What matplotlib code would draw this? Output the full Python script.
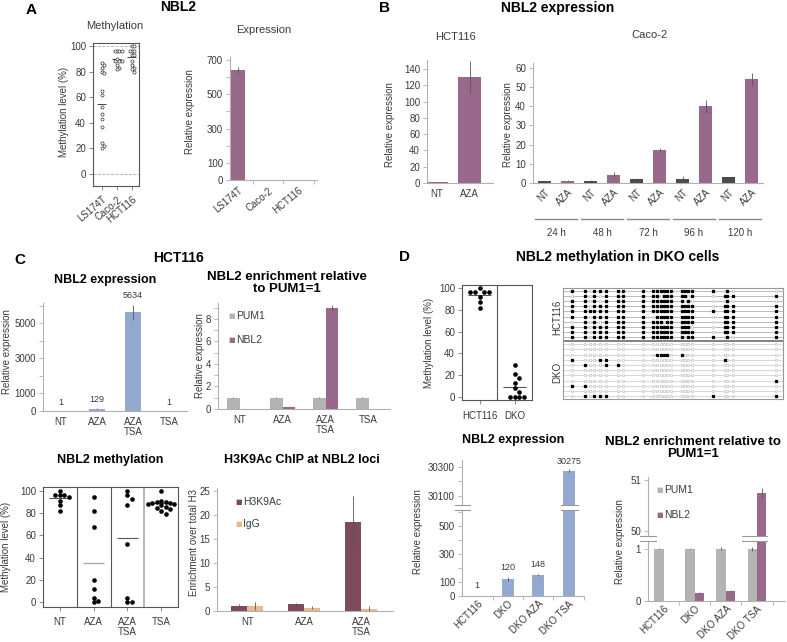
import matplotlib
matplotlib.use('Agg')
import matplotlib.pyplot as plt
import numpy as np
from matplotlib.lines import Line2D
from matplotlib.patches import Rectangle

plt.rcParams['font.family'] = ['Liberation Sans', 'DejaVu Sans']

# ---------------- DATA ----------------
# Panel A
a_lines = ['LS174T', 'Caco-2', 'HCT116']
a_meth_ls174t = [87, 85, 83, 80, 79, 65, 62, 52, 47, 43, 37, 24, 22, 20]
a_meth_caco2 = [96, 96, 96, 96, 90, 88, 88, 88, 85, 83, 82]
a_meth_hct116 = [100, 100, 96, 96, 96, 93, 93, 88, 85, 83, 82, 80]
a_meth_mean = [55, 90, 91]
a_expr = [640, 1.5, 1.2]
a_expr_err = [20, 0.3, 0.3]

# Panel B
b_hct_conds = ['NT', 'AZA']
b_hct_expr = [1, 130]
b_hct_err = [0.3, 20]
b_times = ['24 h', '48 h', '72 h', '96 h', '120 h']
b_pair = ['NT', 'AZA']
b_caco_nt = [1.0, 1.2, 2.0, 2.0, 3.0]
b_caco_nt_err = [0.2, 0.3, 0.4, 1.8, 0.3]
b_caco_aza = [1.2, 4.3, 17.0, 40.0, 54.0]
b_caco_aza_err = [0.2, 1.5, 1.0, 3.5, 3.5]

# Panel C
c_conds = ['NT', 'AZA', 'AZA\nTSA', 'TSA']
c_expr = [1, 129, 5634, 1]
c_expr_err = [0, 15, 450, 0]
c_pum1 = [1, 1, 1, 1]
c_pum1_err = [0.05, 0.05, 0.05, 0.05]
c_nbl2 = [0.01, 0.2, 9.0, 0.01]
c_nbl2_err = [0, 0.02, 0.2, 0]
c_meth_nt = [100, 96, 96, 96, 95, 91, 87, 82]
c_meth_aza = [95, 82, 68, 20, 12, 4, 1, 0]
c_meth_azatsa = [100, 96, 93, 87, 52, 4, 0, 0]
c_meth_tsa = [100, 91, 90, 90, 89, 89, 88, 88, 87, 86, 85, 84, 82, 79]
c_meth_mean = [94, 35, 58, 89]
c_chip_conds = ['NT', 'AZA', 'AZA\nTSA']
c_h3k9ac = [1.1, 1.4, 18.5]
c_h3k9ac_err = [0.3, 0.3, 5.5]
c_igg = [1.0, 0.7, 0.4]
c_igg_err = [0.8, 0.3, 0.6]

# Panel D
d_lines = ['HCT116', 'DKO']
d_meth_hct116 = [100, 96, 96, 96, 96, 92, 87, 82]
d_meth_dko = [29, 21, 17, 13, 8, 5, 0, 0, 0, 0]
d_meth_mean = [94, 9]
d_cpg_sites = [9, 22, 27, 31, 37, 43, 55, 60, 80, 90, 94, 98, 101, 104, 108,
               119, 122, 125, 129, 150, 162, 164, 170, 213]
d_bs_hct116 = [
    '110111111111111111110100',
    '010101111110111110101111',
    '110101111111111101000100',
    '110111111111111111101111',
    '111111111111111111111111',
    '110111111011111111101111',
    '010101111111011111101111',
    '110111111111111111001111',
    '110111111111111111101111',
    '110111111111111101110101',
]
d_bs_dko = [
    '000000000000000000000000',
    '000000000000000000000000',
    '000000000011110100000000',
    '100011000000000000001000',
    '010001100000000000000000',
    '000000000000000000000000',
    '000000000000000000000000',
    '000000000000000000000001',
    '110000000000000000000000',
    '000000000000000000000000',
    '010111000000000000010001',
]
d_conds = ['HCT116', 'DKO', 'DKO AZA', 'DKO TSA']
d_expr = [1, 120, 148, 30275]
d_expr_err = [0, 15, 7, 12]
d_pum1 = [1, 1, 1, 1]
d_pum1_err = [0.01, 0.01, 0.03, 0.04]
d_nbl2 = [0.002, 0.16, 0.2, 50.75]
d_nbl2_err = [0, 0.01, 0.01, 0.09]

# ---------------- STYLE ----------------
W, H = 787, 642
fig = plt.figure(figsize=(W / 100, H / 100), dpi=100)
TXT = '#3a3a3a'
SP = '#b0b0b0'
PURPLE = '#98698a'
DARK = '#4a4a4a'
BLUE = '#93a9cf'
GRAY = '#b3b3b3'
MAROON = '#7f4b5c'
TAN = '#e9b993'
FS = 7


def axpx(l, t, r, b):
    return fig.add_axes([l / W, 1 - b / H, (r - l) / W, (b - t) / H])


def ftext(x, y, s, **kw):
    kw.setdefault('color', TXT)
    kw.setdefault('ha', 'center')
    kw.setdefault('va', 'center')
    fig.text(x / W, 1 - y / H, s, **kw)


def fline(x0, y0, x1, y1, **kw):
    fig.add_artist(Line2D([x0 / W, x1 / W], [1 - y0 / H, 1 - y1 / H],
                          transform=fig.transFigure, **kw))


def frect(x0, y0, x1, y1, **kw):
    fig.add_artist(Rectangle((x0 / W, 1 - y1 / H), (x1 - x0) / W, (y1 - y0) / H,
                             transform=fig.transFigure, **kw))


def bar_style(ax, bottom=True):
    for s in ('top', 'right'):
        ax.spines[s].set_visible(False)
    for s in ('left', 'bottom'):
        ax.spines[s].set_color(SP)
        ax.spines[s].set_linewidth(0.8)
    if not bottom:
        ax.spines['bottom'].set_visible(False)
    ax.tick_params(axis='y', which='both', color=SP, labelcolor=TXT,
                   labelsize=FS, length=3, width=0.6, pad=2)
    ax.tick_params(axis='x', which='major', length=0, labelcolor=TXT,
                   labelsize=FS, pad=4)
    ax.tick_params(axis='x', which='minor', length=3, color=SP, width=0.6)
    ax.set_facecolor('none')


def box_style(ax):
    for s in ax.spines.values():
        s.set_color('#555555')
        s.set_linewidth(0.8)
    ax.tick_params(axis='both', color='#777777', labelcolor=TXT,
                   labelsize=FS, length=3, width=0.6, pad=2)
    ax.set_facecolor('none')


def ebar(ax, x, y, e):
    ax.errorbar(x, y, yerr=e, fmt='none', ecolor='#555555',
                elinewidth=0.6, capsize=0, zorder=3)


def swarm(vals, ythr, dx):
    placed, offs = [], []
    cands = [0.0]
    for i in range(1, 12):
        cands += [i * dx, -i * dx]
    for v in vals:
        for c in cands:
            if all(abs(v - pv) >= ythr or abs(c - po) >= dx * 0.99 for pv, po in placed):
                break
        placed.append((v, c))
        offs.append(c)
    return np.array(offs)


def legend_sq(x, y, color, label):
    ftext(x, y, '\u25A0', color=color, fontsize=5, family='DejaVu Sans')
    ftext(x + 4, y, label, ha='left', fontsize=FS + 0.5)


# ---------------- PANEL A ----------------
ftext(31, 10, 'A', fontsize=11, fontweight='bold', color='black')
ftext(178, 7, 'NBL2', fontsize=10, fontweight='bold', color='black')
ftext(115, 26, 'Methylation', fontsize=8)
ftext(264, 30, 'Expression', fontsize=8)

ax = axpx(93, 43, 139, 186)
box_style(ax)
ax.axhline(0, ls='--', color='#aaaaaa', lw=0.6)
ax.axhline(100, ls='--', color='#aaaaaa', lw=0.6)
for i, vals in enumerate([a_meth_ls174t, a_meth_caco2, a_meth_hct116]):
    off = swarm(vals, 3.0, 0.16)
    ax.scatter(i + off, vals, s=5, facecolors='white', edgecolors='#333333',
               linewidths=0.5, zorder=3)
    ax.hlines(a_meth_mean[i], i - 0.3, i + 0.3, color='#444444', lw=0.7)
ax.set_xlim(-0.6, 2.47)
ax.set_ylim(-9.4, 102.3)
ax.set_yticks([0, 20, 40, 60, 80, 100])
ax.set_xticks(range(3))
ax.set_xticklabels(a_lines, rotation=40, ha='right', rotation_mode='anchor')
ax.tick_params(axis='x', pad=3)
ftext(64, 112, 'Methylation level (%)', rotation=90, fontsize=FS)

ax = axpx(230, 57, 317, 180)
bar_style(ax)
x = np.arange(3)
ax.bar(x, a_expr, 0.5, color=PURPLE)
ebar(ax, x, a_expr, a_expr_err)
ax.set_xlim(-0.25, 2.6)
ax.set_ylim(0, 718)
ax.set_yticks([0, 100, 300, 500, 700])
ax.set_yticks([200, 400, 600], minor=True)
ax.set_xticks(x)
ax.set_xticklabels(a_lines, rotation=40, ha='right', rotation_mode='anchor')
ax.set_xticks([0.5, 1.5, 2.5], minor=True)
ftext(190, 112, 'Relative expression', rotation=90, fontsize=FS)

# ---------------- PANEL B ----------------
ftext(385, 8, 'B', fontsize=11, fontweight='bold', color='black')
ftext(558, 8, 'NBL2 expression', fontsize=10, fontweight='bold', color='black')
ftext(455, 37, 'HCT116', fontsize=8)
ftext(650, 35, 'Caco-2', fontsize=8)

ax = axpx(427, 60, 493, 183)
bar_style(ax)
x = np.arange(2)
ax.bar(x, b_hct_expr, 0.7, color=PURPLE)
ebar(ax, x, b_hct_expr, b_hct_err)
ax.set_xlim(-0.3, 1.7)
ax.set_ylim(0, 151)
ax.set_yticks(range(0, 141, 20))
ax.set_xticks(x)
ax.set_xticklabels(b_hct_conds)
ftext(390, 125, 'Relative expression', rotation=90, fontsize=FS)

ax = axpx(533, 63, 763, 183)
bar_style(ax)
n = len(b_times)
xn = np.arange(n) * 2
xa = xn + 1
ax.bar(xn, b_caco_nt, 0.55, color=DARK)
ax.bar(xa, b_caco_aza, 0.55, color=PURPLE)
ebar(ax, xn, b_caco_nt, b_caco_nt_err)
ebar(ax, xa, b_caco_aza, b_caco_aza_err)
ax.set_xlim(-0.5, 2 * n - 0.5)
ax.set_ylim(0, 62.6)
ax.set_yticks(range(0, 61, 10))
ax.set_xticks(np.arange(2 * n))
ax.set_xticklabels(b_pair * n, rotation=45, ha='right', rotation_mode='anchor')
ax.tick_params(axis='x', pad=3)
tr = ax.get_xaxis_transform()
for i, t in enumerate(b_times):
    ax.plot([2 * i - 0.42, 2 * i + 1.42], [-0.30, -0.30], color='#888888',
            lw=1, transform=tr, clip_on=False)
    ax.text(2 * i + 0.5, -0.42, t, transform=tr, ha='center', va='center',
            fontsize=FS, color=TXT)
ftext(508, 125, 'Relative expression', rotation=90, fontsize=FS)

# ---------------- PANEL C ----------------
ftext(20, 260, 'C', fontsize=11, fontweight='bold', color='black')
ftext(178, 258, 'HCT116', fontsize=10, fontweight='bold', color='black')
ftext(105, 280, 'NBL2 expression', fontsize=9, fontweight='bold', color='black')
ftext(287, 283, 'NBL2 enrichment relative\nto PUM1=1', fontsize=9.5,
      fontweight='bold', color='black', linespacing=1.1)

ax = axpx(43, 303, 187, 411)
bar_style(ax)
x = np.arange(4)
ax.bar(x, c_expr, 0.42, color=BLUE)
ebar(ax, x, c_expr, c_expr_err)
for xi, v, e in zip(x, c_expr, c_expr_err):
    ax.text(xi, v + e + 250, str(v), ha='center', va='bottom', fontsize=6.5, color=TXT)
ax.set_xlim(-0.5, 3.5)
ax.set_ylim(0, 6170)
ax.set_yticks([0, 1000, 3000, 5000])
ax.set_yticks([2000, 4000, 6000], minor=True)
ax.set_xticks(x)
ax.set_xticklabels(c_conds, linespacing=1.0)
ftext(7, 352, 'Relative expression', rotation=90, fontsize=FS)

ax = axpx(218, 303, 390, 409)
bar_style(ax)
ax.bar(x - 0.14, c_pum1, 0.28, color=GRAY)
ax.bar(x + 0.14, c_nbl2, 0.28, color=PURPLE)
ebar(ax, x - 0.14, c_pum1, c_pum1_err)
ebar(ax, x + 0.14, c_nbl2, c_nbl2_err)
ax.set_xlim(-0.5, 3.5)
ax.set_ylim(0, 9.4)
ax.set_yticks([0, 2, 4, 6, 8])
ax.set_yticks([1, 3, 5, 7, 9], minor=True)
ax.set_xticks(x)
ax.set_xticklabels(c_conds, linespacing=1.0)
legend_sq(232, 316, GRAY, 'PUM1')
legend_sq(232, 340, PURPLE, 'NBL2')
ftext(200, 356, 'Relative expression', rotation=90, fontsize=FS)

ftext(110, 460, 'NBL2 methylation', fontsize=9, fontweight='bold', color='black')
ftext(302, 460, 'H3K9Ac ChIP at NBL2 loci', fontsize=9, fontweight='bold', color='black')

ax = axpx(43, 487, 178, 607)
box_style(ax)
for i, vals in enumerate([c_meth_nt, c_meth_aza, c_meth_azatsa, c_meth_tsa]):
    off = swarm(vals, 4.0, 0.13)
    ax.scatter(i + off, vals, s=11, color='black', zorder=3, linewidths=0)
    ax.hlines(c_meth_mean[i], i - 0.32, i + 0.32,
              color='#aaaaaa' if i == 1 else '#555555', lw=1.0 if i == 1 else 0.8)
for b in (0.5, 1.5):
    ax.axvline(b, color='#555555', lw=0.8)
ax.axvline(2.5, color='#aaaaaa', lw=1.2)
ax.set_xlim(-0.5, 3.5)
ax.set_ylim(-4.5, 103.6)
ax.set_yticks(range(0, 101, 20))
ax.set_xticks(x)
ax.set_xticklabels(c_conds, linespacing=1.0)
ax.tick_params(axis='x', pad=4)
ftext(6, 547, 'Methylation level (%)', rotation=90, fontsize=FS)

ax = axpx(217, 488, 393, 611)
bar_style(ax)
x3 = np.arange(3)
ax.bar(x3 - 0.14, c_h3k9ac, 0.28, color=MAROON)
ax.bar(x3 + 0.14, c_igg, 0.28, color=TAN)
ebar(ax, x3 - 0.14, c_h3k9ac, c_h3k9ac_err)
ebar(ax, x3 + 0.14, c_igg, c_igg_err)
ax.set_xlim(-0.53, 2.56)
ax.set_ylim(0, 25.7)
ax.set_yticks(range(0, 26, 5))
ax.set_xticks(x3)
ax.set_xticklabels(c_chip_conds, linespacing=1.0)
legend_sq(239, 502, MAROON, 'H3K9Ac')
legend_sq(239, 524, TAN, 'IgG')
ftext(194, 543, 'Enrichment over total H3', rotation=90, fontsize=FS)

# ---------------- PANEL D ----------------
ftext(405, 257, 'D', fontsize=11, fontweight='bold', color='black')
ftext(618, 257, 'NBL2 methylation in DKO cells', fontsize=10, fontweight='bold', color='black')

ax = axpx(462, 285, 532, 400)
box_style(ax)
for i, vals in enumerate([d_meth_hct116, d_meth_dko]):
    off = swarm(vals, 4.5, 0.13)
    ax.scatter(i + off, vals, s=11, color='black', zorder=3, linewidths=0)
    ax.hlines(d_meth_mean[i], i - 0.32, i + 0.32, color='#555555', lw=0.8)
ax.axvline(0.5, color='#555555', lw=0.8)
ax.set_xlim(-0.5, 1.5)
ax.set_ylim(-2.8, 102.8)
ax.set_yticks(range(0, 101, 20))
ax.set_xticks([0, 1])
ax.set_xticklabels(d_lines)
ax.tick_params(axis='x', pad=5)
ftext(429, 343, 'Methylation level (%)', rotation=90, fontsize=FS)

# bisulfite lollipop panel
ax = axpx(563, 288, 783, 399)
for s in ax.spines.values():
    s.set_color('#999999')
    s.set_linewidth(0.8)
ax.set_xticks([])
ax.set_yticks([])
sites = np.array(d_cpg_sites)
rows_h = [0.5 + i for i in range(len(d_bs_hct116))]
rows_d = [10.85 + j for j in range(len(d_bs_dko))]
for rows, pats, lc in ((rows_h, d_bs_hct116, '#a0a0a0'), (rows_d, d_bs_dko, '#c8c8c8')):
    for yv, pat in zip(rows, pats):
        ax.plot([0, 220], [yv, yv], color=lc, lw=0.5, zorder=1)
        m = np.array([c == '1' for c in pat])
        ax.plot(sites[~m], np.full((~m).sum(), yv), 'o', ms=1.8, mfc='white',
                mec='#b8b8b8', mew=0.4, zorder=2, ls='none')
        ax.plot(sites[m], np.full(m.sum(), yv), 's', ms=1.4, color='black',
                zorder=3, ls='none')
ax.axhline(10.2, color='#777777', lw=1.3)
ax.set_xlim(0, 220)
ax.set_ylim(21.4, 0)
ftext(557, 317, 'HCT116', rotation=90, fontsize=FS)
ftext(557, 372, 'DKO', rotation=90, fontsize=FS)

ftext(513, 440, 'NBL2 expression', fontsize=9, fontweight='bold', color='black')
ftext(693, 448, 'NBL2 enrichment relative to\nPUM1=1', fontsize=9.5,
      fontweight='bold', color='black', linespacing=1.1)

x = np.arange(4)
# broken-axis expression
axu = axpx(462, 460, 584, 507)
axl = axpx(462, 507, 584, 596)
for a in (axu, axl):
    bar_style(a, bottom=(a is axl))
    a.bar(x, d_expr, 0.4, color=BLUE)
    ebar(a, x, d_expr, d_expr_err)
    a.set_xlim(-0.5, 3.5)
axu.set_ylim(30024, 30348)
axu.set_yticks([30100, 30300])
axu.set_yticks([30200], minor=True)
axu.set_xticks([])
axu.tick_params(axis='x', which='both', length=0)
axl.set_ylim(0, 636)
axl.set_yticks([0, 100, 300, 500])
axl.set_yticks([200, 400, 600], minor=True)
axl.set_xticks(x)
axl.set_xticklabels(d_conds, rotation=45, ha='right', rotation_mode='anchor')
axl.tick_params(axis='x', which='major', pad=2)
axl.set_xticks([0.5, 1.5, 2.5, 3.5], minor=True)
for xi, v, e in zip(x[:3], d_expr[:3], d_expr_err[:3]):
    axl.text(xi, v + e + 40, str(v), ha='center', va='bottom', fontsize=6.5, color=TXT)
axu.text(3, d_expr[3] + d_expr_err[3] + 20, str(d_expr[3]), ha='center',
         va='bottom', fontsize=6.5, color=TXT, clip_on=False)
ftext(418, 532, 'Relative expression', rotation=90, fontsize=FS)
for (x0, x1) in ((455, 470), (561, 578)):
    frect(x0, 504.5, x1, 509.5, facecolor='white', edgecolor='none', zorder=10)
    fline(x0, 504.5, x1, 504.5, color='#999999', lw=0.8, zorder=11)
    fline(x0, 509.5, x1, 509.5, color='#999999', lw=0.8, zorder=11)

# broken-axis enrichment
axu = axpx(648, 477, 785, 538)
axl = axpx(648, 538, 785, 601)
for a in (axu, axl):
    bar_style(a, bottom=(a is axl))
    a.bar(x - 0.15, d_pum1, 0.3, color=GRAY)
    a.bar(x + 0.15, d_nbl2, 0.3, color=PURPLE)
    ebar(a, x - 0.15, d_pum1, d_pum1_err)
    ebar(a, x + 0.15, d_nbl2, d_nbl2_err)
    a.set_xlim(-0.5, 3.9)
axu.set_ylim(49.86, 51.06)
axu.set_yticks([50, 51])
axu.set_xticks([])
axl.set_ylim(0, 1.21)
axl.set_yticks([0, 1])
axl.set_xticks(x)
axl.set_xticklabels(d_conds, rotation=45, ha='right', rotation_mode='anchor')
axl.tick_params(axis='x', which='major', pad=2)
axl.set_xticks([0.5, 1.5, 2.5, 3.5], minor=True)
legend_sq(660, 490, GRAY, 'PUM1')
legend_sq(660, 515, PURPLE, 'NBL2')
ftext(620, 542, 'Relative expression', rotation=90, fontsize=FS)
for (x0, x1) in ((640, 656), (742, 767)):
    frect(x0, 535.5, x1, 540.5, facecolor='white', edgecolor='none', zorder=10)
    fline(x0, 535.5, x1, 535.5, color='#999999', lw=0.8, zorder=11)
    fline(x0, 540.5, x1, 540.5, color='#999999', lw=0.8, zorder=11)

fig.savefig('out.png', dpi=100)
